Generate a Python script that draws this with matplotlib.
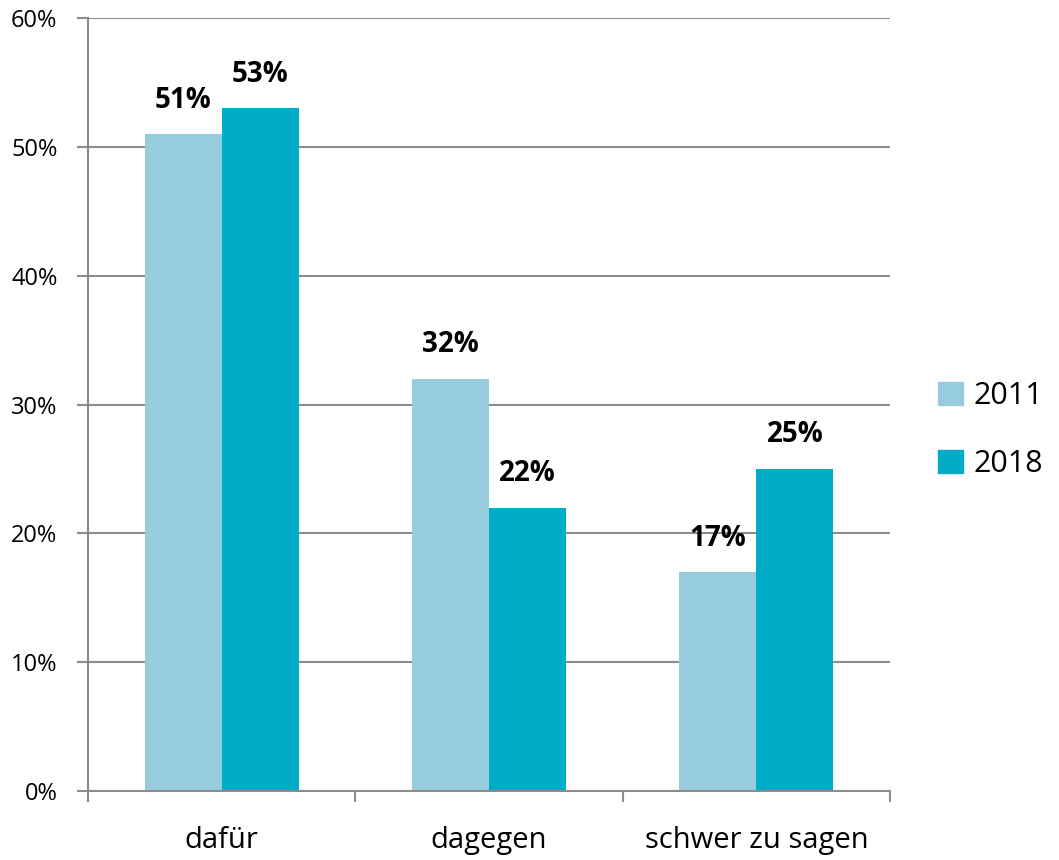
import numpy as np
import matplotlib
matplotlib.use("Agg")
from matplotlib import pyplot as plt
from matplotlib.patches import Patch

categories = ["dafür", "dagegen", "schwer zu sagen"]
years = ["2011", "2018"]
values_2011 = [51, 32, 17]
values_2018 = [53, 22, 25]

colors = ["#96CCDD", "#00ACC8"]
grid_color = "#8C8C8C"

plt.rcParams["font.family"] = ["Open Sans", "DejaVu Sans"]

fig = plt.figure(figsize=(10.59, 8.6), dpi=100)
ax = fig.add_axes([88 / 1059, 69 / 860, 802 / 1059, 773 / 860])

x = np.arange(len(categories))
width = 0.288
for offset, vals, col, year in [(-width / 2, values_2011, colors[0], years[0]),
                                (width / 2, values_2018, colors[1], years[1])]:
    bars = ax.bar(x + offset, vals, width, color=col, zorder=3, label=year)
    for b, v in zip(bars, vals):
        ax.annotate(f"{v}%", (b.get_x() + b.get_width() / 2, v), xytext=(0, 14),
                    textcoords="offset points", ha="center", va="bottom",
                    fontsize=20, fontweight="bold", color="black")

ax.set_xlim(-0.5, 2.5)
ax.set_ylim(0, 60)
ax.set_yticks(range(0, 61, 10))
ax.yaxis.set_major_formatter(lambda v, pos: f"{v:.0f}%")
ax.yaxis.grid(True, color=grid_color, linewidth=1.5, zorder=0)
ax.set_xticks([-0.5, 0.5, 1.5, 2.5])
ax.set_xticklabels([])
ax.set_xticks(x, minor=True)
ax.set_xticklabels(categories, minor=True, fontsize=21)
ax.tick_params(axis="x", which="minor", length=0, pad=25)
ax.tick_params(axis="x", which="major", length=8, width=1.5, color=grid_color, direction="out")
ax.tick_params(axis="y", length=8, width=1.5, color=grid_color, labelsize=17, pad=14)

for side in ["top", "right"]:
    ax.spines[side].set_visible(False)
for side in ["left", "bottom"]:
    ax.spines[side].set_color(grid_color)
    ax.spines[side].set_linewidth(1.5)
    ax.spines[side].set_zorder(4)

handles = [Patch(color=c, label=y) for c, y in zip(colors, years)]
fig.legend(handles=handles, loc="center left", bbox_to_anchor=(0.86, 0.5),
           frameon=False, fontsize=22, handlelength=0.8, handleheight=0.8,
           handletextpad=0.35, labelspacing=1.25)

plt.savefig("out.png", dpi=100)
plt.close()
